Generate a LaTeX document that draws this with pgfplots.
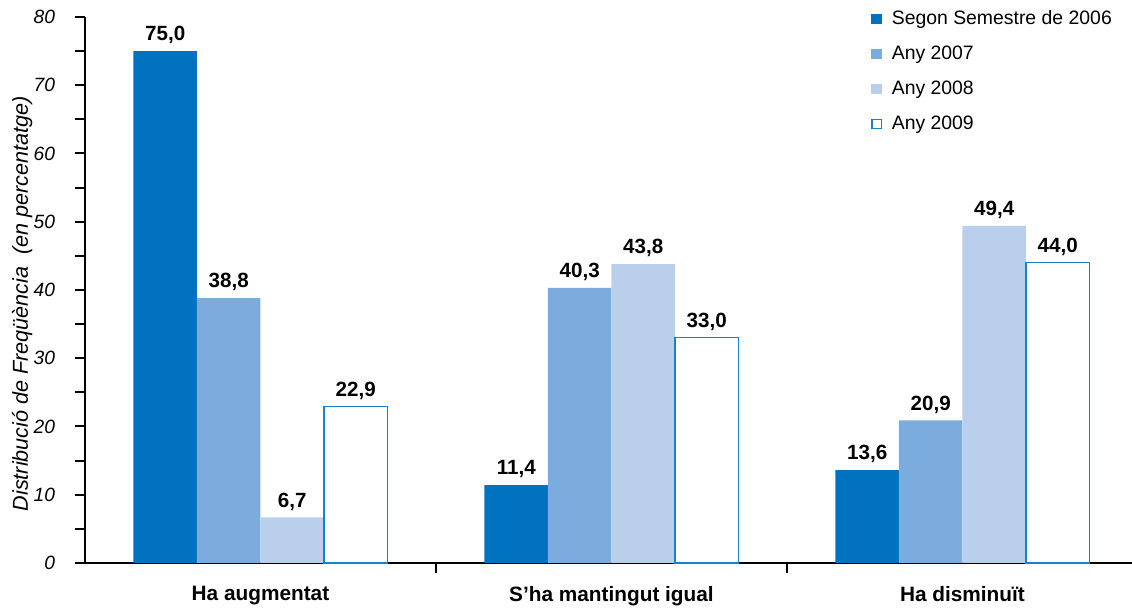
\documentclass[border=0pt]{standalone}
\usepackage{pgfplots}
\pgfplotsset{compat=1.18}
\usepackage{fontspec}
\setmainfont{Liberation Sans}
\definecolor{cA}{RGB}{0,114,190}
\definecolor{cB}{RGB}{124,172,221}
\definecolor{cC}{RGB}{186,207,236}
\definecolor{cD}{RGB}{20,130,205}
\begin{document}
\begin{tikzpicture}
\useasboundingbox (-42.5pt,-22.5pt) rectangle (523.5pt,281.5pt);
\begin{axis}[
  at={(0,0)}, anchor=south west,
  scale only axis, width=523.5pt, height=273pt,
  xmin=-0.5, xmax=2.483, ymin=0, ymax=80,
  ybar=0pt, bar width=31.75pt,
  axis x line=bottom, axis y line=left,
  axis line style={-, line width=1.3pt, black},
  xtick={0,1,2},
  xticklabels={Ha augmentat, S'ha mantingut igual, Ha disminuït},
  xticklabel style={font=\fontsize{10.4}{12}\selectfont\bfseries, yshift=-3pt},
  major x tick style={draw=none},
  minor xtick={0.5,1.5},
  minor x tick style={black, line width=1pt},
  minor tick length=5pt, major tick length=5pt,
  ytick={0,10,...,80}, minor ytick={5,15,...,75},
  y tick style={black, line width=1pt},
  tick align=outside,
  yticklabel style={font=\fontsize{9.6}{11}\selectfont\itshape, xshift=-6.5pt},
  /pgf/number format/assume math mode=true,
  ylabel={Distribució de Freqüència\ \ (en percentatge)},
  ylabel style={at={(axis description cs:-0.060,0.475)}, anchor=center, font=\fontsize{10.8}{12}\selectfont\itshape},
  nodes near coords,
  nodes near coords style={font=\fontsize{10.3}{12}\selectfont\bfseries, /pgf/number format/.cd, fixed, fixed zerofill, precision=1, use comma, assume math mode=true},
  legend style={draw=none, fill=none, at={(axis description cs:0.745,1.027)}, anchor=north west,
    font=\fontsize{9.7}{11}\selectfont, row sep=5.15pt, legend cell align=left,
    /tikz/every odd column/.append style={column sep=3pt}},
  clip=false,
]
\addplot[fill=cA, draw=none, legend image code/.code={\fill[cA] (0pt,-2.6pt) rectangle (5.2pt,2.6pt);}] coordinates {(0,75.0) (1,11.4) (2,13.6)};
\addplot[fill=cB, draw=none, legend image code/.code={\fill[cB] (0pt,-2.6pt) rectangle (5.2pt,2.6pt);}] coordinates {(0,38.8) (1,40.3) (2,20.9)};
\addplot[fill=cC, draw=none, legend image code/.code={\fill[cC] (0pt,-2.6pt) rectangle (5.2pt,2.6pt);}] coordinates {(0,6.7) (1,43.8) (2,49.4)};
\addplot[fill=white, draw=cD, line width=0.6pt, legend image code/.code={\draw[cD, fill=white, line width=0.6pt] (0.3pt,-2.3pt) rectangle (4.9pt,2.3pt);}] coordinates {(0,22.9) (1,33.0) (2,44.0)};
\legend{Segon Semestre de 2006, Any 2007, Any 2008, Any 2009}
\end{axis}
\end{tikzpicture}
\end{document}
